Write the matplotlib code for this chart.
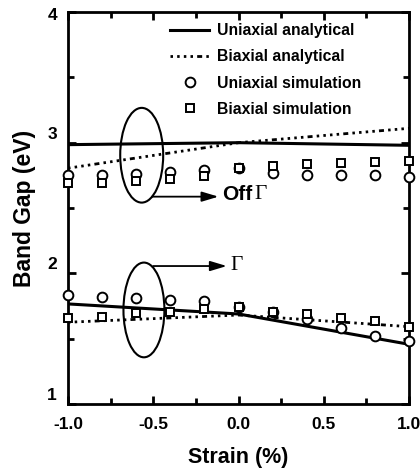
import matplotlib
matplotlib.use('Agg')
import matplotlib.pyplot as plt
import matplotlib.transforms as mtransforms
from matplotlib.patches import Ellipse
from matplotlib.ticker import MultipleLocator, FormatStrFormatter

plt.rcParams['font.family'] = ['Liberation Sans', 'DejaVu Sans']
plt.rcParams['font.weight'] = 'bold'
plt.rcParams['lines.scale_dashes'] = False

# analytical curves (piecewise linear, kink at zero strain)
strain_ana = [-1.0, 0.0, 1.0]
off_uni_ana = [2.985, 3.0, 2.98]
off_bi_ana = [2.805, 3.0, 3.11]
gam_uni_ana = [1.766, 1.689, 1.457]
gam_bi_ana = [1.626, 1.681, 1.592]

# simulation points
strain_sim = [-1.0, -0.8, -0.6, -0.4, -0.2, 0.0, 0.2, 0.4, 0.6, 0.8, 1.0]
off_uni_sim = [2.75, 2.75, 2.76, 2.775, 2.79, 2.805, 2.765, 2.755, 2.75, 2.75, 2.735]
off_bi_sim = [2.695, 2.695, 2.705, 2.725, 2.745, 2.805, 2.825, 2.84, 2.845, 2.855, 2.86]
gam_uni_sim = [1.834, 1.821, 1.814, 1.796, 1.789, 1.745, 1.707, 1.649, 1.584, 1.521, 1.485]
gam_bi_sim = [1.661, 1.664, 1.694, 1.707, 1.725, 1.745, 1.707, 1.689, 1.656, 1.638, 1.592]

# dots with an occasional short dash
dotted = (0, (1.8, 3.0, 1.8, 3.0, 1.8, 3.0, 1.8, 3.0, 3.6, 3.0))

fig = plt.figure(figsize=(4.2, 4.7), dpi=100)
ax = fig.add_axes([0.162, 0.1404, 0.812, 0.834])

ax.plot(strain_ana, off_uni_ana, color='black', lw=2.2, label='Uniaxial analytical', zorder=3)
ax.plot(strain_ana, off_bi_ana, color='black', lw=2.0, ls=dotted, label='Biaxial analytical', zorder=3)
ax.plot(strain_ana, gam_uni_ana, color='black', lw=2.2, zorder=3)
ax.plot(strain_ana, gam_bi_ana, color='black', lw=2.0, ls=dotted, zorder=3)

mk = dict(ls='none', mfc='white', mec='black', mew=1.4, clip_on=False, zorder=4)
ax.plot(strain_sim, off_uni_sim, marker='o', ms=7, label='Uniaxial simulation', **mk)
ax.plot(strain_sim, off_bi_sim, marker='s', ms=6, label='Biaxial simulation', **mk)
ax.plot(strain_sim, gam_uni_sim, marker='o', ms=7, **mk)
ax.plot(strain_sim, gam_bi_sim, marker='s', ms=6, **mk)

# ellipses marking the two groups
ax.add_patch(Ellipse((-0.568, 2.904), 0.252, 0.725, fill=False, lw=1.5, ec='black', zorder=5))
ax.add_patch(Ellipse((-0.555, 1.72), 0.24, 0.725, fill=False, lw=1.5, ec='black', zorder=5))

arrow = dict(arrowstyle='-|>,head_length=1.0,head_width=0.3', color='black', lw=1.3,
             shrinkA=0, shrinkB=0)
ax.annotate('', xy=(-0.118, 2.587), xytext=(-0.509, 2.587), arrowprops=arrow)
ax.annotate('', xy=(-0.069, 2.056), xytext=(-0.501, 2.056), arrowprops=arrow)
ax.text(-0.099, 2.60, 'Off', fontsize=15, fontweight='bold', va='center', ha='left')
ax.text(0.095, 2.60, '\u0393', fontsize=15.5, family='Liberation Serif', fontweight='normal',
        va='center', ha='left')
ax.text(-0.05, 2.06, '\u0393', fontsize=15.5, family='Liberation Serif', fontweight='normal',
        va='center', ha='left')

ax.set_xlim(-1.0, 1.0)
ax.set_ylim(1, 4)
ax.xaxis.set_major_locator(MultipleLocator(0.5))
ax.xaxis.set_minor_locator(MultipleLocator(0.25))
ax.xaxis.set_major_formatter(FormatStrFormatter('%.1f'))
ax.yaxis.set_major_locator(MultipleLocator(1))
ax.yaxis.set_minor_locator(MultipleLocator(0.5))
ax.tick_params(which='both', direction='in', top=True, right=True, width=2, labelsize=12.5)
ax.tick_params(axis='x', pad=9)
ax.tick_params(axis='y', pad=8)
ax.tick_params(which='major', length=6)
ax.tick_params(which='minor', length=4)
for s in ax.spines.values():
    s.set_linewidth(2)

# y tick labels sit above their ticks in the original
ax.set_yticks([1, 2, 3, 4])
ax.set_yticklabels(['1', '2', '3', '4'])
for lab in ax.get_yticklabels():
    dy = -2 if lab.get_text() == '4' else 10
    lab.set_transform(lab.get_transform() + mtransforms.ScaledTranslation(0, dy / 100, fig.dpi_scale_trans))

ax.set_xlabel('Strain (%)', fontsize=15.5, fontweight='bold', labelpad=11)
ax.set_ylabel('Band Gap (eV)', fontsize=16.5, fontweight='bold', labelpad=8)

ax.legend(loc='upper left', bbox_to_anchor=(170 / 420, 1 - 23 / 470), bbox_transform=fig.transFigure,
          frameon=False, fontsize=11.3, handlelength=2.5, handletextpad=0.5,
          labelspacing=0.72, borderpad=0, borderaxespad=0)

fig.savefig('out.png', dpi=100)
